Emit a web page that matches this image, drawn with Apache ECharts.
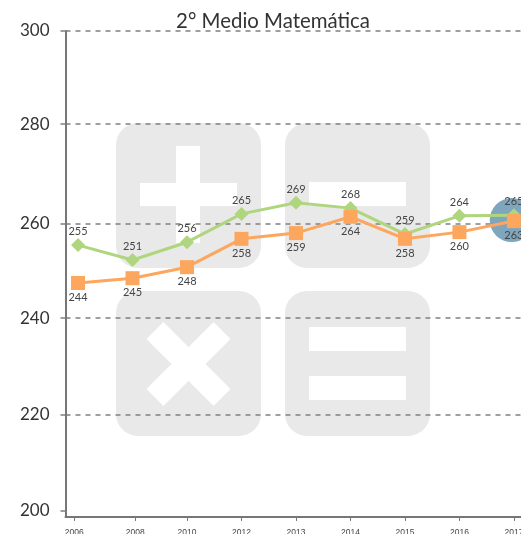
<!DOCTYPE html>
<html>
<head>
<meta charset="utf-8">
<style>
  html, body { margin: 0; padding: 0; background: #fff; }
  #main { width: 521px; height: 534px; }
</style>
<script src="https://cdn.jsdelivr.net/npm/echarts@6/dist/echarts.min.js"></script>
</head>
<body>
<div id="main"></div>
<script>
const years = ['2006', '2008', '2010', '2012', '2013', '2014', '2015', '2016', '2017'];
const yTicks = [200, 220, 240, 260, 280, 300];
// the original's ticks are not evenly spaced, these are the heights they sit at
const yTickAt = [200, 220, 240.2, 259.8, 280.6, 300];
// slots of the year ticks, the first two sit a little off the points
const yearTickAt = [-0.07, 1.05, 2, 3, 4, 5, 6, 7, 8];

// where the points are drawn
const greenValues = [255.4, 252.3, 256, 261.9, 264.2, 263.1, 257.7, 261.5, 261.6];
const orangeValues = [247.5, 248.5, 250.8, 256.7, 257.9, 261.3, 256.7, 258.1, 260.4];
// what the labels say (not the same as the drawn height in the original)
const greenLabels = [255, 251, 256, 265, 269, 268, 259, 264, 265];
const orangeLabels = [244, 245, 248, 258, 259, 264, 258, 260, 263];
const highlight = [[7.96, 260.6]];

const GREEN = '#afd67f';
const ORANGE = '#fda65d';
const TILE = '#e9e9e9';
const font = 'Lato, "Open Sans", sans-serif';

function withSlots(values) {
  return values.map((v, i) => [i, v]);
}

// background tiles with the math signs
function tile(x, y) {
  return { type: 'rect', z: -1, shape: { x: x, y: y, width: 145, height: 145, r: 22 }, style: { fill: TILE } };
}
function bar(x, y, w, h, rot) {
  const el = { type: 'rect', z: -1, shape: { x: x, y: y, width: w, height: h }, style: { fill: '#fff' } };
  if (rot) {
    el.rotation = rot;
    el.originX = x + w / 2;
    el.originY = y + h / 2;
  }
  return el;
}

const chart = echarts.init(document.getElementById('main'));

chart.setOption({
  animation: false,
  backgroundColor: '#fff',
  title: {
    text: '2° Medio Matemática',
    left: 268,
    top: 6,
    textAlign: 'center',
    textStyle: { fontFamily: font, fontSize: 20.4, fontWeight: 'normal', color: '#333' }
  },
  graphic: [
    tile(116, 123), tile(285, 123), tile(116, 291), tile(285, 291),
    bar(176, 146, 24, 97), bar(140, 183, 97, 23),
    bar(309, 182, 97, 24),
    bar(141, 352, 95, 24, Math.PI / 4), bar(141, 352, 95, 24, -Math.PI / 4),
    bar(309, 327, 97, 24), bar(309, 376, 97, 24)
  ],
  grid: { left: 65.5, right: 0, top: 31, bottom: 17, outerBoundsMode: 'none' },
  xAxis: {
    type: 'value',
    min: -0.23,
    max: 8.13,
    splitLine: { show: false },
    axisLine: { onZero: false, lineStyle: { color: '#777', width: 2 } },
    axisTick: { customValues: yearTickAt, length: 4, lineStyle: { color: '#777' } },
    axisLabel: {
      customValues: yearTickAt,
      margin: 11,
      fontSize: 8.5,
      fontFamily: 'Liberation Sans, sans-serif',
      color: '#444',
      hideOverlap: false,
      formatter: v => years[yearTickAt.indexOf(v)]
    }
  },
  yAxis: {
    type: 'value',
    min: 198.75,
    max: 300,
    splitLine: { show: true, showMinLine: false, lineStyle: { color: '#808080', type: [5, 5], width: 1.5 } },
    axisLine: { show: true, onZero: false, lineStyle: { color: '#777', width: 2 } },
    axisTick: { show: true, customValues: yTickAt, length: 8, lineStyle: { color: '#808080', type: [5, 5], width: 1.5 } },
    axisLabel: {
      customValues: yTickAt,
      margin: 16,
      fontSize: 17,
      fontFamily: font,
      color: '#333',
      formatter: v => yTicks[yTickAt.indexOf(v)]
    }
  },
  series: [
    {
      type: 'scatter',
      z: 1,
      symbol: 'circle',
      symbolSize: 44,
      silent: true,
      itemStyle: { color: '#7fa6bd', opacity: 1 },
      data: highlight
    },
    {
      type: 'line',
      z: 3,
      data: withSlots(greenValues),
      symbol: 'diamond',
      symbolSize: 14,
      lineStyle: { color: GREEN, width: 3 },
      itemStyle: { color: GREEN },
      label: {
        show: true,
        position: 'top',
        distance: 1,
        fontSize: 11,
        fontFamily: font,
        color: '#444',
        formatter: p => greenLabels[p.dataIndex]
      }
    },
    {
      type: 'line',
      z: 4,
      data: withSlots(orangeValues),
      symbol: 'rect',
      symbolSize: 14,
      lineStyle: { color: ORANGE, width: 3 },
      itemStyle: { color: ORANGE },
      label: {
        show: true,
        position: 'bottom',
        distance: 2,
        fontSize: 11,
        fontFamily: font,
        color: '#444',
        formatter: p => orangeLabels[p.dataIndex]
      }
    }
  ]
});
</script>
</body>
</html>
